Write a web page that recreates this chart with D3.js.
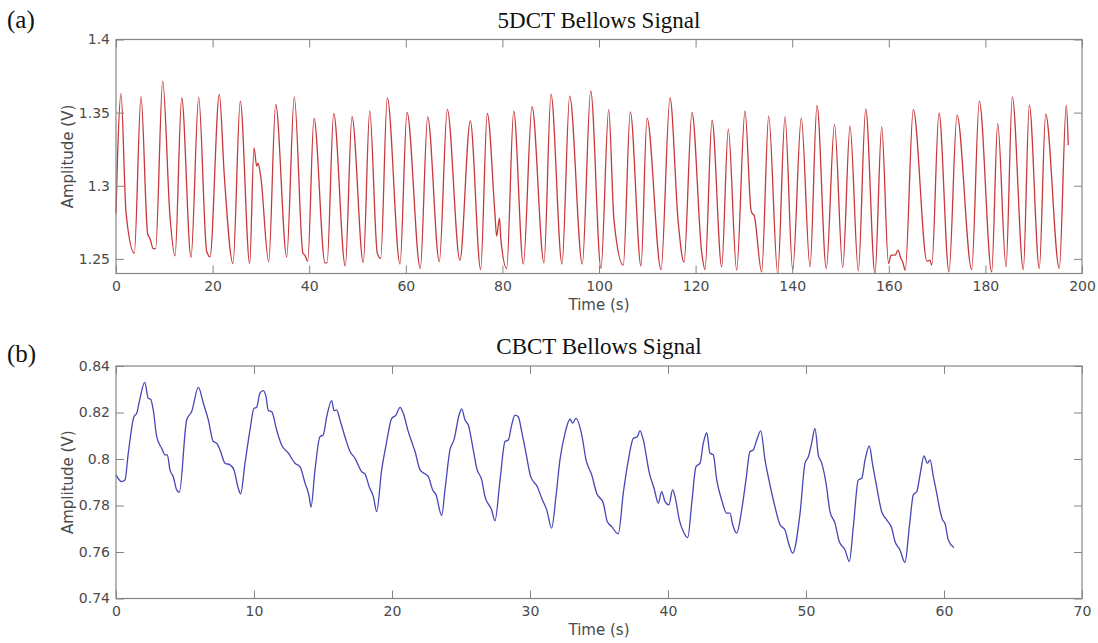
<!DOCTYPE html>
<html>
<head>
<meta charset="utf-8">
<script src="https://cdn.jsdelivr.net/npm/d3@7"></script>
<style>
  html, body { margin: 0; padding: 0; background: #fff; }
  svg { display: block; }
</style>
</head>
<body>
<svg id="chart" width="1098" height="643"></svg>
<script>
// ---------- Data: panel (a) 5DCT bellows signal ----------
const timeA = [0,0.3,1.04,2.07,3.79,5.18,6.56,7.04,7.7,8.2,9.67,11.18,12.22,13.6,15.53,17.12,18.78,19.46,21.39,22.42,24.22,25.73,27.68,28.57,29.13,29.4,29.96,31.62,33.06,35.34,36.92,38.7,39.1,39.69,40.99,43.27,43.7,45.07,47.47,48.86,51.2,52.53,54.1,54.8,56.17,58.8,60.25,63.0,64.53,66.94,68.59,71.2,73.35,75.5,76.87,78.47,78.8,79.4,79.7,80.89,82.34,84.33,86.13,88.61,90.06,92.34,93.93,96.54,98.28,100.41,102.01,103.1,105.03,106.48,108.7,109.94,112.84,114.7,116.4,117.6,119.25,121.26,121.95,123.4,125.4,126.77,128.5,130.23,131.47,131.74,132.1,133.68,135.13,137.0,138.51,140.1,141.88,143.69,145.13,147.06,148.76,150.46,151.97,153.69,155.22,157.14,158.53,159.94,160.45,161.3,161.9,162.5,162.9,163.4,165.07,167.9,168.5,168.9,170.39,172.46,174.12,177.16,178.74,181.3,182.55,184.27,185.57,187.85,189.09,191.16,192.48,195.3,196.75,197.16];
const ampA = [1.281,1.3175,1.363,1.282,1.254,1.361,1.267,1.264,1.257,1.257,1.3715,1.279,1.252,1.36,1.251,1.3604,1.255,1.2514,1.3626,1.307,1.2468,1.3578,1.2468,1.3259,1.3134,1.3154,1.3065,1.2479,1.3556,1.2514,1.3608,1.2539,1.2525,1.2484,1.346,1.2473,1.2473,1.3494,1.245,1.3473,1.2475,1.3512,1.2539,1.2503,1.3601,1.2464,1.3501,1.2434,1.3471,1.2482,1.3522,1.2491,1.3444,1.2427,1.3494,1.2799,1.2655,1.2778,1.2628,1.2434,1.351,1.2464,1.354,1.2473,1.3626,1.2464,1.3613,1.2464,1.3649,1.2434,1.3521,1.2765,1.2457,1.3505,1.245,1.3462,1.2427,1.3601,1.2751,1.2477,1.3501,1.2546,1.2427,1.3448,1.2445,1.3387,1.2423,1.3512,1.2833,1.281,1.2799,1.2411,1.3476,1.24,1.3471,1.2423,1.3464,1.2445,1.3549,1.2434,1.3419,1.2441,1.3407,1.2418,1.3526,1.24,1.3403,1.2468,1.2525,1.2525,1.256,1.2505,1.2477,1.2423,1.3522,1.2484,1.2491,1.2457,1.3498,1.2411,1.3483,1.2427,1.3578,1.2411,1.3426,1.2445,1.3608,1.2427,1.3551,1.2434,1.3489,1.2434,1.3551,1.3277];

// ---------- Data: panel (b) CBCT bellows signal ----------
const timeB = [0,0.41,0.65,0.89,1.3,1.5,1.69,2.08,2.34,2.51,2.7,2.95,3.31,3.55,3.72,3.91,4.15,4.4,4.59,
  5.12,5.48,5.97,6.33,6.69,7.05,7.29,7.54,7.9,8.26,8.55,8.86,9.03,
  9.35,9.71,10.0,10.19,10.43,10.67,10.87,11.04,11.28,11.64,12.0,12.49,12.97,13.33,13.7,14.0,14.13,
  14.42,14.78,15.02,15.27,15.63,15.8,15.99,16.23,16.59,16.96,17.32,17.8,18.04,18.35,18.65,18.89,
  19.25,19.57,19.98,20.29,20.58,20.82,21.18,21.42,21.67,22.03,22.63,22.95,23.19,23.6,
  23.84,24.2,24.49,24.86,25.05,25.29,25.53,25.89,26.14,26.5,26.74,27.22,27.46,
  27.83,28.19,28.43,28.67,28.91,29.15,29.4,29.71,30.05,30.53,30.85,31.21,31.57,
  31.88,32.17,32.54,32.9,33.09,33.33,33.75,34.06,34.47,34.83,35.31,35.6,35.92,36.4,
  36.76,37.13,37.49,37.78,37.97,38.21,38.65,38.99,39.3,39.54,39.78,40.07,40.33,40.51,40.82,41.11,41.43,
  41.72,42.03,42.32,42.56,42.81,43.04,43.28,43.53,43.89,44.25,44.49,44.69,44.98,
  45.34,45.65,45.94,46.18,46.43,46.72,47.03,47.39,47.75,48.12,48.48,48.72,49.04,
  49.57,49.93,50.17,50.41,50.65,50.89,51.14,51.45,51.74,52.1,52.41,52.83,53.14,
  53.43,53.79,54.04,54.28,54.59,54.83,55.12,55.48,55.85,56.21,56.45,56.81,57.17,
  57.49,57.78,58.03,58.26,58.55,58.79,58.99,59.23,59.52,59.66,59.9,60.07,60.31,60.72];
const ampB = [0.7932,0.7903,0.791,0.8025,0.8182,0.8197,0.8247,0.833,0.8261,0.8257,0.8211,0.8096,0.8046,0.8018,0.8018,0.7953,0.7924,0.7867,0.7857,
  0.8168,0.8204,0.8308,0.824,0.8168,0.8075,0.8068,0.8039,0.7982,0.7975,0.7953,0.7874,0.785,
  0.7982,0.8125,0.8218,0.8222,0.8283,0.8294,0.8268,0.8208,0.8204,0.8125,0.806,0.8025,0.7982,0.7967,0.7896,0.7838,0.7793,
  0.7953,0.8096,0.8104,0.8182,0.8251,0.8208,0.8211,0.8168,0.8096,0.8032,0.8003,0.7946,0.7936,0.7881,0.7838,0.7774,
  0.7953,0.806,0.8175,0.8189,0.8222,0.8197,0.8118,0.8075,0.8032,0.7953,0.7924,0.7867,0.7846,0.7757,
  0.7867,0.8039,0.8082,0.8189,0.8216,0.8168,0.8146,0.8039,0.796,0.791,0.7838,0.7781,0.7734,
  0.791,0.8075,0.8082,0.8146,0.8189,0.8182,0.8118,0.8025,0.7924,0.7881,0.7831,0.7781,0.7703,
  0.7838,0.7996,0.8111,0.8171,0.8154,0.8175,0.8104,0.7996,0.7932,0.7853,0.781,0.7731,0.7709,0.7678,
  0.7853,0.7996,0.8089,0.8096,0.8122,0.8082,0.7939,0.7874,0.781,0.786,0.7817,0.7803,0.7867,0.7838,0.7738,0.7688,0.7662,
  0.781,0.7967,0.7982,0.8068,0.8113,0.8025,0.8018,0.791,0.7824,0.7767,0.7767,0.7717,0.7681,
  0.7781,0.791,0.8032,0.8039,0.8082,0.8121,0.7996,0.7889,0.7795,0.7717,0.7695,0.7641,0.7595,
  0.7767,0.7982,0.801,0.8068,0.8132,0.8018,0.7982,0.7896,0.7774,0.7724,0.7645,0.7609,0.7559,
  0.7709,0.791,0.7917,0.7996,0.8056,0.7975,0.7881,0.7774,0.7738,0.7703,0.7645,0.7609,0.7555,
  0.7709,0.7846,0.786,0.7931,0.8013,0.7982,0.7996,0.7924,0.7838,0.7793,0.7738,0.7724,0.7652,0.7619];

// ---------- Axis ticks / text ----------
const xTicksA = [0, 20, 40, 60, 80, 100, 120, 140, 160, 180, 200];
const yTicksA = [1.25, 1.3, 1.35, 1.4];
const xTicksB = [0, 10, 20, 30, 40, 50, 60, 70];
const yTicksB = [0.74, 0.76, 0.78, 0.8, 0.82, 0.84];
const titles = ["5DCT Bellows Signal", "CBCT Bellows Signal"];
const panelTags = ["(a)", "(b)"];
const xLabel = "Time (s)";
const yLabel = "Amplitude (V)";

const svg = d3.select("#chart");
const frameColor = "#858585";
const textColor = "#4a4a4a";

function panel(cfg) {
  const { left, right, top, bottom, xDomain, yDomain, xTicks, yTicks, times, amps, color, title, tag, tagY } = cfg;
  const x = d3.scaleLinear().domain(xDomain).range([left, right]);
  const y = d3.scaleLinear().domain(yDomain).range([bottom, top]);
  const g = svg.append("g");
  const fmt = d => String(+d.toFixed(2));

  // data line
  const pts = times.map((t, i) => [t, amps[i]]);
  g.append("path")
    .datum(pts)
    .attr("fill", "none")
    .attr("stroke", color)
    .attr("stroke-width", 1.3)
    .attr("stroke-linejoin", "round")
    .attr("d", d3.line().x(d => x(d[0])).y(d => y(d[1])).curve(d3.curveMonotoneX));

  // axes: inward ticks on all four sides (box on)
  const tk = 8;
  const styleAxis = sel => {
    sel.select(".domain").remove();
    sel.selectAll(".tick line").attr("stroke", frameColor);
    sel.selectAll(".tick text").attr("fill", textColor)
      .style("font-family", "'DejaVu Sans', sans-serif").style("font-size", "14px");
  };
  g.append("g").attr("transform", `translate(0,${bottom})`)
    .call(d3.axisBottom(x).tickValues(xTicks).tickFormat(fmt).tickSizeInner(-tk).tickSizeOuter(0).tickPadding(8))
    .call(styleAxis);
  g.append("g").attr("transform", `translate(0,${top})`)
    .call(d3.axisTop(x).tickValues(xTicks).tickFormat("").tickSizeInner(-tk).tickSizeOuter(0))
    .call(styleAxis);
  g.append("g").attr("transform", `translate(${left},0)`)
    .call(d3.axisLeft(y).tickValues(yTicks).tickFormat(fmt).tickSizeInner(-tk).tickSizeOuter(0).tickPadding(6))
    .call(styleAxis);
  g.append("g").attr("transform", `translate(${right},0)`)
    .call(d3.axisRight(y).tickValues(yTicks).tickFormat("").tickSizeInner(-tk).tickSizeOuter(0))
    .call(styleAxis);

  // frame
  g.append("rect")
    .attr("x", left).attr("y", top)
    .attr("width", right - left).attr("height", bottom - top)
    .attr("fill", "none").attr("stroke", frameColor).attr("stroke-width", 1.2);

  // labels
  g.append("text")
    .attr("x", (left + right) / 2).attr("y", bottom + 36)
    .attr("text-anchor", "middle")
    .style("font-family", "'DejaVu Sans', sans-serif").style("font-size", "15px")
    .attr("fill", textColor).text(xLabel);
  g.append("text")
    .attr("transform", `translate(${73},${(top + bottom) / 2}) rotate(-90)`)
    .attr("text-anchor", "middle")
    .style("font-family", "'DejaVu Sans', sans-serif").style("font-size", "15px")
    .attr("fill", textColor).text(yLabel);
  g.append("text")
    .attr("x", (left + right) / 2).attr("y", top - 12)
    .attr("text-anchor", "middle")
    .style("font-family", "'Liberation Serif', 'Times New Roman', serif").style("font-size", "23px")
    .attr("fill", "#111").text(title);
  g.append("text")
    .attr("x", 7).attr("y", tagY)
    .style("font-family", "'Liberation Serif', 'Times New Roman', serif").style("font-size", "25px")
    .attr("fill", "#111").text(tag);
}

panel({ left: 116, right: 1082, top: 39.5, bottom: 273.5, xDomain: [0, 200], yDomain: [1.24, 1.4],
  xTicks: xTicksA, yTicks: yTicksA, times: timeA, amps: ampA, color: "#c8383c",
  title: titles[0], tag: panelTags[0], tagY: 28 });
panel({ left: 116, right: 1082, top: 366, bottom: 598.5, xDomain: [0, 70], yDomain: [0.74, 0.84],
  xTicks: xTicksB, yTicks: yTicksB, times: timeB, amps: ampB, color: "#4646b4",
  title: titles[1], tag: panelTags[1], tagY: 362 });
</script>
</body>
</html>
